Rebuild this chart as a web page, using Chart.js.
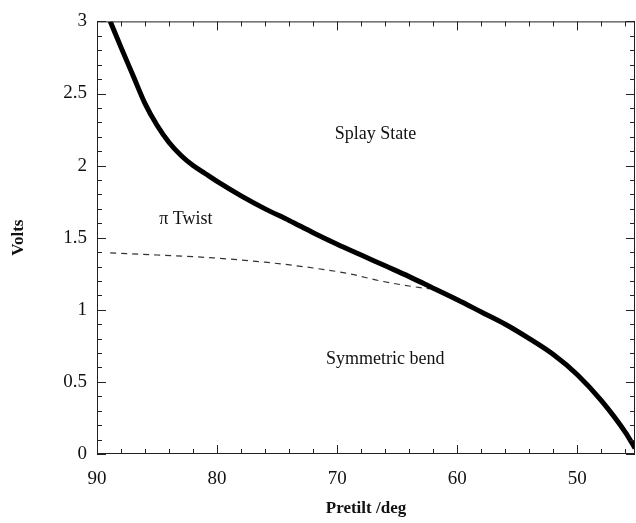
<!DOCTYPE html>
<html>
<head>
<meta charset="utf-8">
<script src="https://cdn.jsdelivr.net/npm/chart.js@4"></script>
<style>
  html, body { margin: 0; padding: 0; background: #fff; }
  #wrap { width: 636px; height: 523px; }
</style>
</head>
<body>
<div id="wrap"><canvas id="myChart"></canvas></div>
<script>
// thick curve (boundary of the splay state)
const pretilt = [88.9, 88, 87, 86, 85, 84, 83, 82, 81, 80, 78, 76, 74, 72, 70, 68, 66, 64, 62, 60, 58, 56, 54, 52, 50, 48, 46, 45.2]
const volts = [3.00, 2.82, 2.625, 2.43, 2.28, 2.16, 2.07, 2.00, 1.945, 1.89, 1.79, 1.70, 1.62, 1.535, 1.455, 1.38, 1.305, 1.23, 1.15, 1.07, 0.985, 0.90, 0.80, 0.69, 0.55, 0.37, 0.15, 0.04]

// dashed curve (twist / bend)
const dashPretilt = [88.9, 85, 80.3, 76, 72, 69, 66.4, 64, 62.3]
const dashVolts = [1.395, 1.38, 1.36, 1.33, 1.29, 1.25, 1.20, 1.165, 1.145]

// axis ticks
const xMajor = [90, 80, 70, 60, 50]
const xMinor = [46, 48, 52, 54, 56, 58, 62, 64, 66, 68, 72, 74, 76, 78, 82, 84, 86, 88]
const yMajor = [0, 0.5, 1, 1.5, 2, 2.5, 3]
const yMinor = [0.1, 0.2, 0.3, 0.4, 0.6, 0.7, 0.8, 0.9, 1.1, 1.2, 1.3, 1.4, 1.6, 1.7, 1.8, 1.9, 2.1, 2.2, 2.3, 2.4, 2.6, 2.7, 2.8, 2.9]

// region labels
const regionNames = ['Splay State', '\u03c0 Twist', 'Symmetric bend']
const regionX = [66.8, 82.6, 66.0]
const regionY = [2.22, 1.63, 0.655]

const serif = '"Liberation Serif", "Times New Roman", serif'

const toPts = (xs, ys) => xs.map((x, i) => ({ x: x, y: ys[i] }))

const frameTicks = {
  id: 'frameTicks',
  afterDraw(chart) {
    const c = chart.ctx
    const a = chart.chartArea
    const xs = chart.scales.x
    const ys = chart.scales.y
    c.save()
    c.strokeStyle = '#222'
    c.lineWidth = 1
    c.strokeRect(a.left + 0.5, a.top + 0.5, a.right - a.left - 1, a.bottom - a.top - 1)
    c.beginPath()
    const tx = (v, len) => {
      const p = Math.round(xs.getPixelForValue(v)) + 0.5
      c.moveTo(p, a.bottom); c.lineTo(p, a.bottom - len)
      c.moveTo(p, a.top); c.lineTo(p, a.top + len)
    }
    const ty = (v, len) => {
      const p = Math.round(ys.getPixelForValue(v)) + 0.5
      c.moveTo(a.left, p); c.lineTo(a.left + len, p)
      c.moveTo(a.right, p); c.lineTo(a.right - len, p)
    }
    xMajor.forEach(v => tx(v, 9))
    xMinor.forEach(v => tx(v, 5))
    yMajor.forEach(v => ty(v, 9))
    yMinor.forEach(v => ty(v, 5))
    c.stroke()

    c.fillStyle = '#111'
    c.font = '18px ' + serif
    c.textAlign = 'center'
    c.textBaseline = 'middle'
    regionNames.forEach((t, i) => {
      c.fillText(t, xs.getPixelForValue(regionX[i]), ys.getPixelForValue(regionY[i]))
    })
    c.restore()
  }
}

new Chart(document.getElementById('myChart'), {
  type: 'scatter',
  data: {
    datasets: [{
      label: 'boundary',
      data: toPts(pretilt, volts),
      showLine: true,
      borderColor: '#000',
      borderWidth: 5,
      pointRadius: 0,
      cubicInterpolationMode: 'monotone'
    }, {
      label: 'twist-bend',
      data: toPts(dashPretilt, dashVolts),
      showLine: true,
      borderColor: '#333',
      borderWidth: 1.2,
      borderDash: [6, 5],
      pointRadius: 0,
      cubicInterpolationMode: 'monotone'
    }]
  },
  options: {
    responsive: true,
    maintainAspectRatio: false,
    animation: false,
    layout: { padding: { top: 19, right: 1, left: 0, bottom: 0 } },
    plugins: { legend: { display: false }, tooltip: { enabled: false } },
    scales: {
      x: {
        type: 'linear',
        reverse: true,
        min: 45.2,
        max: 90,
        afterBuildTicks: s => { s.ticks = xMajor.map(v => ({ value: v })) },
        afterFit: s => { s.height = 69 },
        grid: { display: false, drawTicks: false },
        border: { display: false },
        ticks: { color: '#111', font: { family: serif, size: 19 }, padding: 14, maxRotation: 0 },
        title: { display: true, text: 'Pretilt /deg', color: '#111', font: { family: serif, size: 17, weight: 'bold' }, padding: { top: 6 } }
      },
      y: {
        min: 0,
        max: 3,
        afterBuildTicks: s => { s.ticks = yMajor.map(v => ({ value: v })) },
        afterFit: s => { s.width = 97 },
        grid: { display: false, drawTicks: false },
        border: { display: false },
        ticks: { color: '#111', font: { family: serif, size: 19 }, padding: 10, callback: v => String(v) },
        title: { display: true, text: 'Volts', color: '#111', font: { family: serif, size: 17, weight: 'bold' }, padding: { bottom: 0, top: 8 } }
      }
    }
  },
  plugins: [frameTicks]
})
</script>
</body>
</html>
